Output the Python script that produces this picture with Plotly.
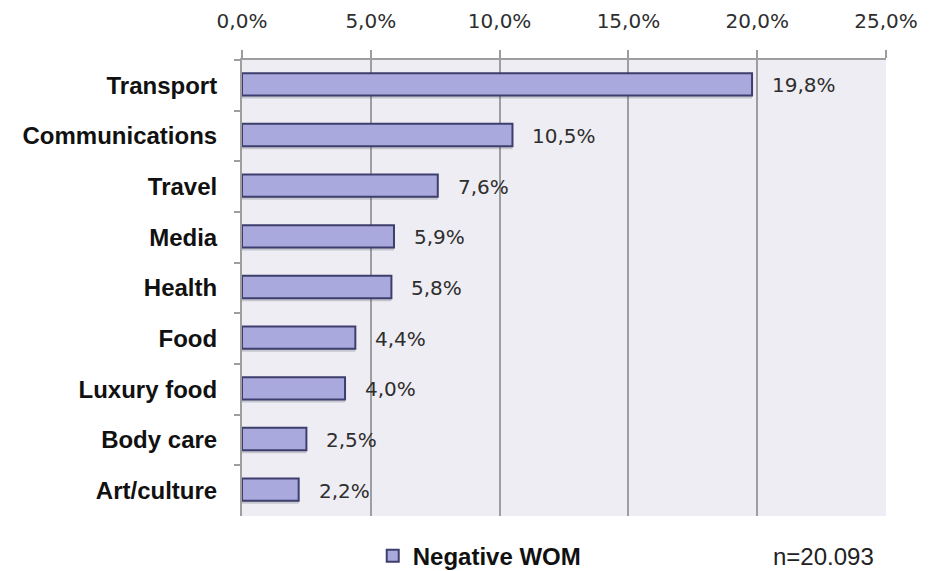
import plotly.graph_objects as go

# Share of negative word-of-mouth by sector (%)
categories = ["Transport", "Communications", "Travel", "Media", "Health",
              "Food", "Luxury food", "Body care", "Art/culture"]
values = [19.8, 10.5, 7.6, 5.9, 5.8, 4.4, 4.0, 2.5, 2.2]
series_name = "Negative WOM"
sample_note = "n=20.093"
tick_values = [0, 5, 10, 15, 20, 25]
tick_labels = ["0,0%", "5,0%", "10,0%", "15,0%", "20,0%", "25,0%"]


def pct(v):
    return f"{v:.1f}".replace(".", ",") + "%"


fig = go.Figure()

# soft drop shadow beneath each bar
fig.add_trace(go.Bar(
    y=categories, x=values, orientation="h",
    width=0.44, offset=-0.18,
    marker=dict(color="rgba(60,60,80,0.22)", line=dict(width=0)),
    showlegend=False, hoverinfo="skip",
))

fig.add_trace(go.Bar(
    y=categories, x=values, orientation="h", name=series_name,
    width=0.44, offset=-0.24,
    marker=dict(color="#A9A9DE", line=dict(color="#3E3E6E", width=2)),
))

for c, v in zip(categories, values):
    fig.add_annotation(
        x=v, y=c, text=pct(v), showarrow=False,
        xanchor="left", yanchor="middle", xshift=18,
        font=dict(family="DejaVu Sans", size=20, color="#2E2E2E"),
    )

fig.add_annotation(
    xref="paper", yref="paper", x=0.822, y=-0.088,
    text=sample_note, showarrow=False, xanchor="left", yanchor="middle",
    font=dict(family="Liberation Sans", size=24, color="#222222"),
)

fig.update_layout(
    width=942, height=571,
    margin=dict(l=242, r=56, t=60, b=55, autoexpand=False),
    paper_bgcolor="white",
    plot_bgcolor="#EEEDF3",
    barmode="overlay",
    legend=dict(
        orientation="h", x=0.203, y=-0.088, xanchor="left", yanchor="middle",
        font=dict(family="Liberation Sans", size=24, color="#111111", weight="bold"),
        bgcolor="rgba(0,0,0,0)",
    ),
    xaxis=dict(
        side="top", range=[0, 25], tickvals=tick_values, ticktext=tick_labels,
        showgrid=True, gridcolor="#9E9E9E", gridwidth=1.5,
        showline=True, linecolor="#9E9E9E", linewidth=2,
        ticks="outside", ticklen=8, tickcolor="#9E9E9E", tickwidth=1.5,
        tickfont=dict(family="DejaVu Sans", size=20, color="#2E2E2E"),
        ticklabelstandoff=14,
        zeroline=False, fixedrange=True,
    ),
    yaxis=dict(
        autorange="reversed", showgrid=False,
        showline=True, linecolor="#9E9E9E", linewidth=2,
        ticks="outside", ticklen=6, tickcolor="#9E9E9E", tickwidth=1.5,
        tickson="boundaries",
        tickfont=dict(family="Liberation Sans", size=24, color="#111111", weight="bold"),
        ticklabelstandoff=18,
    ),
)

fig.write_html("out.html")
